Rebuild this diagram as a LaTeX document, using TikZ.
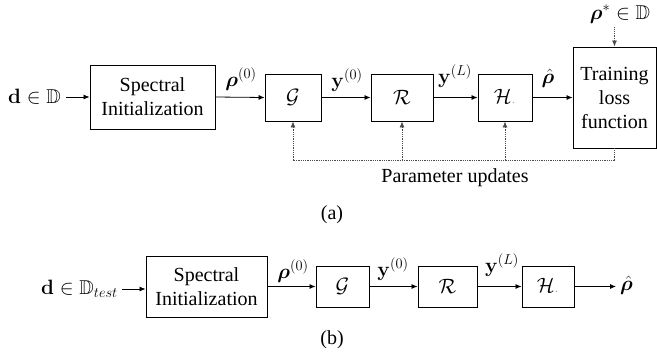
\documentclass[tikz,border=0pt]{standalone}
\usepackage{amsmath,amssymb,bm}
\usepackage[no-math]{fontspec}
\setmainfont{Liberation Serif}
\usetikzlibrary{arrows.meta}
\begin{document}
\begin{tikzpicture}[x=1pt,y=-1pt,
  font=\fontsize{20}{24}\selectfont,
  blk/.style={draw,line width=0.9pt,inner sep=0pt,align=center},
  lbl/.style={inner sep=0pt},
  arr/.style={line width=0.8pt,-{Latex[length=6pt,width=5pt]}},
  dots/.style={densely dotted,line width=0.8pt,draw=black!70},
  darr/.style={dots,-{Latex[length=6pt,width=5pt]}}]
\useasboundingbox (0,0) rectangle (657,356);
% ---------- (a) ----------
\node[lbl,anchor=east] (da) at (61,97) {$\mathbf{d}\in\mathbb{D}$};
\node[blk,minimum width=125pt,minimum height=64pt] (SIa) at (152.5,97) {Spectral\\Initialization};
\node[blk,minimum width=56pt,minimum height=47pt] (Ga) at (293,97.5) {$\mathcal{G}$};
\node[blk,minimum width=62pt,minimum height=47pt] (Ra) at (402,97.5) {$\mathcal{R}$};
\node[blk,minimum width=54pt,minimum height=47pt] (Ha) at (505,97.5) {$\mathcal{H}_{\color{black!35}\cdot}$};
\node[blk,minimum width=83pt,minimum height=101pt] (TLa) at (614.5,97.5) {Training\\loss\\function};
\node[lbl] (rsa) at (620,14) {$\bm{\rho}^{*}\in\mathbb{D}$};
\node[lbl] (l1a) at (241,79) {$\bm{\rho}^{(0)}$};
\node[lbl] (l2a) at (347,80) {$\mathbf{y}^{(0)}$};
\node[lbl] (l3a) at (455,76) {$\mathbf{y}^{(L)}$};
\node[lbl] (l4a) at (548,78) {$\hat{\bm{\rho}}$};
\node[lbl] (pu) at (455,178) {Parameter updates};
\node[lbl] (ca) at (332,215) {(a)};
\draw[arr] (da.east) ++(5,0) -- (SIa.west);
\draw[arr] (SIa.east) -- (Ga.west);
\draw[arr] (Ga.east) -- (Ra.west);
\draw[arr] (Ra.east) -- (Ha.west);
\draw[arr] (Ha.east) -- (TLa.west);
\draw[darr] (rsa.south -| TLa.north) ++(0,4) -- (TLa.north);
\coordinate (fbR) at (TLa.south |- 0,160);
\coordinate (fbL) at (Ga.south |- 0,160);
\draw[dots] (TLa.south) -- (fbR) -- (fbL);
\draw[darr] (fbL) -- (Ga.south);
\draw[darr] (Ra.south |- fbR) -- (Ra.south);
\draw[darr] (Ha.south |- fbR) -- (Ha.south);
% ---------- (b) ----------
\node[lbl,anchor=east] (db) at (118,289) {$\mathbf{d}\in\mathbb{D}_{test}$};
\node[blk,minimum width=121pt,minimum height=61pt] (SIb) at (206.5,286.5) {Spectral\\Initialization};
\node[blk,minimum width=53pt,minimum height=41pt] (Gb) at (342.5,286.5) {$\mathcal{G}$};
\node[blk,minimum width=59pt,minimum height=41pt] (Rb) at (447.5,286.5) {$\mathcal{R}$};
\node[blk,minimum width=52pt,minimum height=41pt] (Hb) at (548,286.5) {$\mathcal{H}_{\color{black!35}\cdot}$};
\node[lbl,anchor=west] (ob) at (620,285) {$\hat{\bm{\rho}}$};
\node[lbl] (l1b) at (293,271) {$\bm{\rho}^{(0)}$};
\node[lbl] (l2b) at (393,269) {$\mathbf{y}^{(0)}$};
\node[lbl] (l3b) at (502,265) {$\mathbf{y}^{(L)}$};
\node[lbl] (cb) at (332,340) {(b)};
\draw[arr] (db.east) ++(4,0) -- (SIb.west |- db.east);
\draw[arr] (SIb.east) -- (Gb.west);
\draw[arr] (Gb.east) -- (Rb.west);
\draw[arr] (Rb.east) -- (Hb.west);
\draw[arr,shorten >=4pt] (Hb.east) -- (ob.west |- Hb.east);
\end{tikzpicture}
\end{document}
